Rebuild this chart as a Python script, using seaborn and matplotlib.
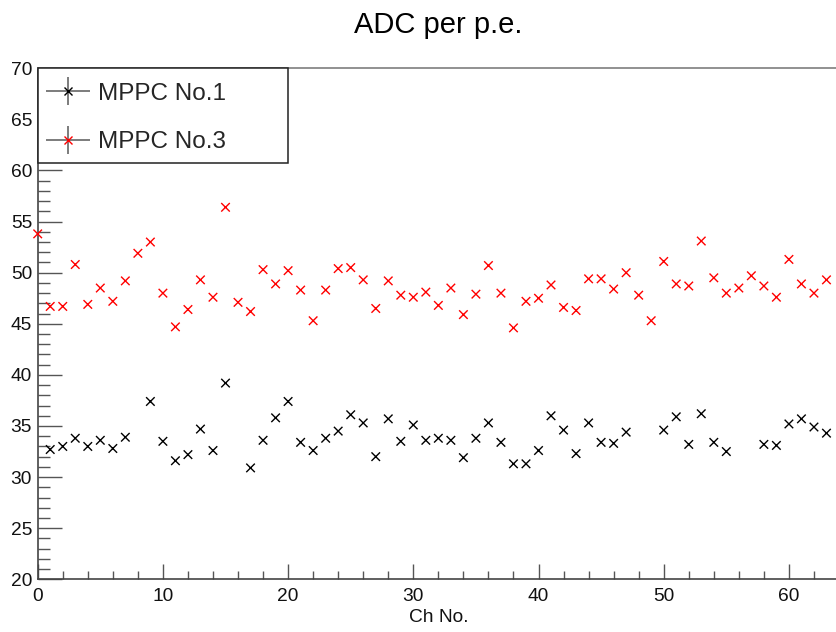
import numpy as np
import pandas as pd
import matplotlib
matplotlib.use("Agg")
import matplotlib.pyplot as plt
from matplotlib.ticker import MultipleLocator
from matplotlib.container import ErrorbarContainer
from matplotlib.legend_handler import HandlerErrorbar
from matplotlib.patches import Rectangle
import seaborn as sns

nan = np.nan
channels = list(range(64))
mppc1 = [nan, 32.7, 33.0, 33.8, 33.0, 33.6, 32.8, 33.9, nan, 37.4,
         33.5, 31.6, 32.2, 34.7, 32.6, 39.2, nan, 30.9, 33.6, 35.8,
         37.4, 33.4, 32.6, 33.8, 34.5, 36.1, 35.3, 32.0, 35.7, 33.5,
         35.1, 33.6, 33.8, 33.6, 31.9, 33.8, 35.3, 33.4, 31.3, 31.3,
         32.6, 36.0, 34.6, 32.3, 35.3, 33.4, 33.3, 34.4, nan, nan,
         34.6, 35.9, 33.2, 36.2, 33.4, 32.5, nan, nan, 33.2, 33.1,
         35.2, 35.7, 34.9, 34.3]
mppc3 = [53.8, 46.7, 46.7, 50.8, 46.9, 48.5, 47.2, 49.2, 51.9, 53.0,
         48.0, 44.7, 46.4, 49.3, 47.6, 56.4, 47.1, 46.2, 50.3, 48.9,
         50.2, 48.3, 45.3, 48.3, 50.4, 50.5, 49.3, 46.5, 49.2, 47.8,
         47.6, 48.1, 46.8, 48.5, 45.9, 47.9, 50.7, 48.0, 44.6, 47.2,
         47.5, 48.8, 46.6, 46.3, 49.4, 49.4, 48.4, 50.0, 47.8, 45.3,
         51.1, 48.9, 48.7, 53.1, 49.5, 48.0, 48.5, 49.7, 48.7, 47.6,
         51.3, 48.9, 48.0, 49.3]
series_names = ["MPPC No.1", "MPPC No.3"]
series_colors = ["#000000", "#ff0000"]
title = "ADC per p.e."
xlabel = "Ch No."

df = pd.concat([
    pd.DataFrame({"ch": channels, "adc": mppc1, "series": series_names[0]}),
    pd.DataFrame({"ch": channels, "adc": mppc3, "series": series_names[1]}),
]).dropna()

sns.set_style("white")
plt.rcParams["font.family"] = ["Liberation Sans", "DejaVu Sans"]

fig = plt.figure(figsize=(8.36, 6.32), dpi=100)
ax = fig.add_axes([37.7 / 836, (632 - 579.3) / 632, 801.3 / 836, 511.0 / 632])

sns.scatterplot(data=df, x="ch", y="adc", hue="series",
                palette=dict(zip(series_names, series_colors)),
                marker="x", s=38, linewidth=1.0, legend=False, ax=ax,
                clip_on=False, zorder=3)

ax.set_xlim(0, 64)
ax.set_ylim(20, 70)
ax.xaxis.set_major_locator(MultipleLocator(10))
ax.xaxis.set_minor_locator(MultipleLocator(2))
ax.yaxis.set_major_locator(MultipleLocator(5))
ax.yaxis.set_minor_locator(MultipleLocator(1))

tick_c = "#555555"
ax.tick_params(axis="x", which="major", direction="in", length=10.8, width=1.0,
               color=tick_c, labelsize=13.8, labelcolor="#111111", pad=6, bottom=True)
ax.tick_params(axis="x", which="minor", direction="in", length=5.5, width=1.0,
               color=tick_c, bottom=True)
ax.tick_params(axis="y", which="major", direction="in", length=17.3, width=1.0,
               color=tick_c, labelsize=13.8, labelcolor="#111111", pad=4.1, left=True)
ax.tick_params(axis="y", which="minor", direction="in", length=8.6, width=1.0,
               color=tick_c, left=True)

for side in ["left", "bottom"]:
    ax.spines[side].set_color("#444444")
    ax.spines[side].set_linewidth(1.2)
ax.spines["top"].set_color("#888888")
ax.spines["top"].set_linewidth(1.3)
ax.spines["right"].set_color("#888888")

ax.set_xlabel(xlabel, fontsize=13.8, color="#111111", labelpad=3.5)
ax.set_ylabel("")

fig.text(438 / 836, (632 - 33.3) / 632, title, ha="center", va="baseline",
         fontsize=21, color="#000000")

# legend box (ROOT TLegend style, fixed size)
frame = Rectangle((0, (579.3 - 163.3) / 511.0), (288 - 37.7) / 801.3,
                  (163.3 - 68.3) / 511.0, transform=ax.transAxes,
                  facecolor="white", edgecolor="#222222", linewidth=1.1,
                  zorder=4, clip_on=False)
ax.add_patch(frame)

# legend proxies (errorbar-style, as in ROOT)
handles = []
for name, col in zip(series_names, series_colors):
    h = ax.errorbar([nan], [nan], xerr=[1], yerr=[1], fmt="x", color=col,
                    ecolor="#666666", elinewidth=1.2, markersize=6, mew=1.0,
                    label=name)
    handles.append(h)
leg = ax.legend(handles=handles, labels=series_names, loc="upper left",
                bbox_to_anchor=(0, 1), borderaxespad=0, fontsize=17.5,
                frameon=False, borderpad=0.6, handlelength=1.32,
                handletextpad=0.56, labelspacing=1.08,
                handler_map={ErrorbarContainer: HandlerErrorbar(xerr_size=0.9, yerr_size=0.58)})
leg.set_zorder(5)

fig.savefig("out.png", dpi=100)
